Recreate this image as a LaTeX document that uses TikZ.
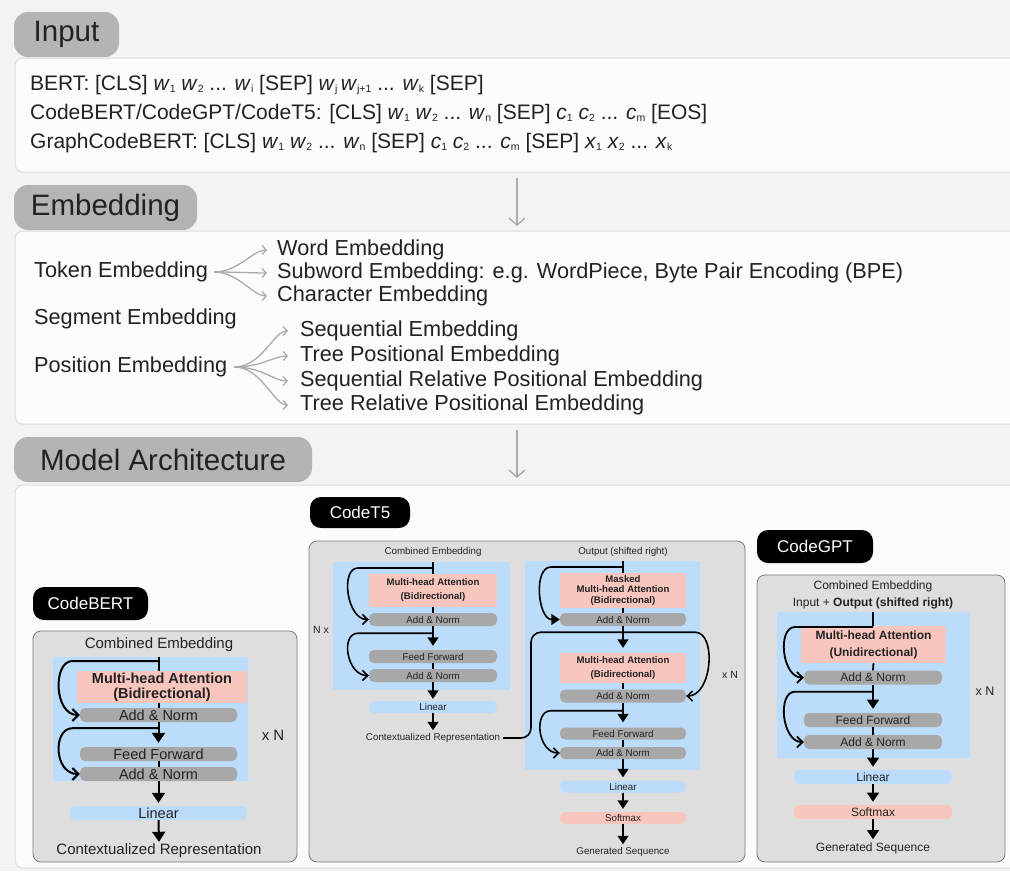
\documentclass[tikz,border=0pt]{standalone}
\usepackage{fontspec}
\setmainfont{Liberation Sans}
\usetikzlibrary{arrows.meta}
\usetikzlibrary{calc}

\definecolor{bgcol}{HTML}{F3F3F3}
\definecolor{panelcol}{HTML}{FCFCFC}
\definecolor{panelline}{HTML}{DCDCDC}
\definecolor{tabcol}{HTML}{B4B4B4}
\definecolor{boxcol}{HTML}{DEDEDE}
\definecolor{boxline}{HTML}{7A7A7A}
\definecolor{layerblue}{HTML}{BBDCFA}
\definecolor{attnpink}{HTML}{F9C6BE}
\definecolor{bargray}{HTML}{A8A8A8}
\definecolor{fangray}{HTML}{ABABAB}
\definecolor{txtcol}{HTML}{222222}

\newcommand{\tk}[2]{\textit{#1}\raisebox{-0.2ex}{\fontsize{10.5}{11}\selectfont #2}}
\newcommand{\fsz}[2]{\fontsize{#1}{#2}\selectfont}

\tikzset{
  tab/.style={fill=tabcol, rounded corners=14pt, inner sep=0pt, text=txtcol, font=\fsz{29.5}{30}},
  panel/.style={fill=panelcol, draw=panelline, line width=1pt, rounded corners=8pt},
  modellabel/.style={fill=black, text=white, rounded corners=11pt, inner sep=0pt, font=\fsz{17}{17}},
  modelbox/.style={fill=boxcol, draw=boxline, line width=0.8pt, rounded corners=8pt, inner sep=0pt},
  layer/.style={fill=layerblue, inner sep=0pt},
  attn/.style={fill=attnpink, inner sep=0pt, align=center, text=txtcol},
  bar/.style={fill=bargray, rounded corners=5pt, inner sep=0pt, text=txtcol},
  lin/.style={fill=layerblue, rounded corners=5pt, inner sep=0pt, text=txtcol},
  soft/.style={fill=attnpink, rounded corners=5pt, inner sep=0pt, text=txtcol},
  plain/.style={inner sep=0pt, text=txtcol},
  fan/.style={draw=fangray, line width=1.3pt, -{Straight Barb[length=4pt,width=9pt]}},
  stage/.style={draw=fangray, line width=1.4pt, -{Straight Barb[length=7pt,width=16pt]}},
  flow/.style={draw=black, line width=#1, -{Triangle[length=2pt 4,width=2pt 5.5]}},
  flow/.default=2pt,
  link/.style={draw=black, line width=#1},
  link/.default=2pt,
  res/.style={draw=black, line width=#1, -{Straight Barb[length=2pt 2,width=2pt 5]}},
  res/.default=2pt,
  resfill/.style={draw=black, line width=#1, -{Triangle[length=2pt 4,width=2pt 5.5]}},
  resfill/.default=2pt,
}

\begin{document}
\begin{tikzpicture}[x=1pt,y=-1pt]
\useasboundingbox (0,0) rectangle (1010,871);
\clip (0,0) rectangle (1010,871);
\fill[bgcol] (0,0) rectangle (1010,871);

% input
\node[tab, minimum width=105pt, minimum height=45pt] (inputtab) at (66.5,34.5) {Input};
\draw[panel] (15,58) rectangle (1030,172);
\node[plain, anchor=west, font=\fsz{21}{24}] (bertline) at (30,85) {BERT: [CLS] \tk{w}{1} \tk{w}{2} ... \tk{w}{i} [SEP] \tk{w}{j}\,\tk{w}{j+1} ... \tk{w}{k} [SEP]};
\node[plain, anchor=west, font=\fsz{21}{24}] (codeline) at (30,114) {CodeBERT/CodeGPT/CodeT5: [CLS] \tk{w}{1} \tk{w}{2} ... \tk{w}{n} [SEP] \tk{c}{1} \tk{c}{2} ... \tk{c}{m} [EOS]};
\node[plain, anchor=west, font=\fsz{21}{24}] (graphline) at (30,143) {GraphCodeBERT: [CLS] \tk{w}{1} \tk{w}{2} ... \tk{w}{n} [SEP] \tk{c}{1} \tk{c}{2} ... \tk{c}{m} [SEP] \tk{x}{1} \tk{x}{2} ... \tk{x}{k}};
\coordinate (inputend) at (517,178);
\coordinate (embedstart) at (517,226);
\draw[stage] (inputend) -- (embedstart);

% embedding
\node[tab, minimum width=183pt, minimum height=45pt] (embedtab) at (105.5,207.5) {Embedding};
\draw[panel] (15,231) rectangle (1030,424);
\node[plain, anchor=west, font=\fsz{21.7}{24}] (token) at (34,272) {Token Embedding};
\node[plain, anchor=west, font=\fsz{21.7}{24}] (segment) at (34,319) {Segment Embedding};
\node[plain, anchor=west, font=\fsz{21.7}{24}] (position) at (34,367) {Position Embedding};
\node[plain, anchor=west, font=\fsz{21.7}{24}] (word) at (277,250) {Word Embedding};
\node[plain, anchor=west, font=\fsz{21.7}{24}] (subword) at (277,273) {Subword Embedding: e.g. WordPiece, Byte Pair Encoding (BPE)};
\node[plain, anchor=west, font=\fsz{21.7}{24}] (character) at (277,296) {Character Embedding};
\node[plain, anchor=west, font=\fsz{21.7}{24}] (seqemb) at (300,331) {Sequential Embedding};
\node[plain, anchor=west, font=\fsz{21.7}{24}] (treeemb) at (300,356) {Tree Positional Embedding};
\node[plain, anchor=west, font=\fsz{21.7}{24}] (seqrel) at (300,381) {Sequential Relative Positional Embedding};
\node[plain, anchor=west, font=\fsz{21.7}{24}] (treerel) at (300,405) {Tree Relative Positional Embedding};
\foreach \target in {word,subword,character}
  \draw[fan, shorten <=6pt, shorten >=10pt] (token.east) .. controls +(30,0) and +(-24,0) .. (\target.west);
\foreach \target in {seqemb,treeemb,seqrel,treerel}
  \draw[fan, shorten <=7pt, shorten >=12pt] (position.east) .. controls +(34,0) and +(-26,0) .. (\target.west);
\coordinate (embedend) at (517,430);
\coordinate (modelstart) at (517,478);
\draw[stage] (embedend) -- (modelstart);

% model architecture
\node[tab, minimum width=298pt, minimum height=45pt] (modeltab) at (163,459.5) {Model Architecture};
\draw[panel] (15,485) rectangle (1030,868);

% CodeBERT
\node[modelbox, minimum width=264pt, minimum height=231pt] (bertbox) at (165,746.5) {};
\node[modellabel, minimum width=115pt, minimum height=33pt] (bertlabel) at (90.5,603.5) {CodeBERT};
\node[plain, font=\fsz{15}{15}] (bertin) at (159,645) {Combined Embedding};
\node[layer, minimum width=195pt, minimum height=124pt] (bertlayer) at (150.5,719) {};
\node[attn, minimum width=170pt, minimum height=32pt, font=\bfseries\fsz{14.5}{15}] (bertmha) at (162,687) {Multi-head Attention\\(Bidirectional)};
\node[bar, minimum width=157pt, minimum height=14pt, font=\fsz{14.5}{15}] (bertan1) at (158.5,715) {Add \& Norm};
\node[bar, minimum width=157pt, minimum height=14pt, font=\fsz{14.5}{15}] (bertff) at (158.5,754) {Feed Forward};
\node[bar, minimum width=157pt, minimum height=14pt, font=\fsz{14.5}{15}] (bertan2) at (158.5,774) {Add \& Norm};
\node[lin, minimum width=177pt, minimum height=14pt, font=\fsz{14.5}{15}] (bertlin) at (158.5,813) {Linear};
\node[plain, font=\fsz{15}{15}] (bertout) at (159,851) {Contextualized Representation};
\node[plain, font=\fsz{15}{15}] (bertrep) at (273,735) {x N};
\coordinate (berttop) at (158.5,657);
\draw[link] (berttop) -- (berttop |- bertmha.north);
\draw[link] (berttop |- bertmha.south) -- (bertan1.north);
\draw[flow] (bertan1.south) -- ([yshift=4pt]bertff.north);
\draw[link] (bertff.south) -- (bertan2.north);
\draw[flow] (bertan2.south) -- ([yshift=3pt]bertlin.north);
\draw[flow] (bertlin.south) -- ([yshift=2pt]bertout.north);
\draw[res] ([yshift=-4pt]berttop) -- ++(-86,0) .. controls +(-20,0) and +(-26,0) .. (bertan1.west);
\draw[res] ([yshift=-6pt]bertan1.south) -- ++(-86,0) .. controls +(-20,0) and +(-26,0) .. (bertan2.west);

% CodeT5
\node[modelbox, minimum width=436pt, minimum height=321pt] (t5box) at (527,701.5) {};
\node[modellabel, minimum width=100pt, minimum height=31pt] (t5label) at (360,512.5) {CodeT5};
\node[plain, font=\fsz{9.8}{10}] (encin) at (433,552) {Combined Embedding};
\node[layer, minimum width=177pt, minimum height=128pt] (enclayer) at (421.5,626) {};
\node[attn, minimum width=128pt, minimum height=33pt, font=\bfseries\fsz{9.6}{14}] (encmha) at (433,590.5) {Multi-head Attention\\(Bidirectional)};
\node[bar, minimum width=128pt, minimum height=13pt, font=\fsz{9.8}{10}] (encan1) at (433,619.5) {Add \& Norm};
\node[bar, minimum width=128pt, minimum height=13pt, font=\fsz{9.8}{10}] (encff) at (433,656.5) {Feed Forward};
\node[bar, minimum width=128pt, minimum height=13pt, font=\fsz{9.8}{10}] (encan2) at (433,675.5) {Add \& Norm};
\node[lin, minimum width=128pt, minimum height=12pt, font=\fsz{9.8}{10}] (enclin) at (433,707) {Linear};
\node[plain, font=\fsz{9.8}{10}] (encout) at (433,738) {Contextualized Representation};
\node[plain, font=\fsz{10.5}{11}] (encrep) at (321,630) {N x};
\coordinate (enctop) at (433,562);
\draw[link=1.6pt] (enctop) -- (enctop |- encmha.north);
\draw[link=1.6pt] (encmha.south) -- (encan1.north);
\draw[flow=1.6pt] (encan1.south) -- ([yshift=4pt]encff.north);
\draw[link=1.6pt] (encff.south) -- (encan2.north);
\draw[flow=1.6pt] (encan2.south) -- ([yshift=2pt]enclin.north);
\draw[flow=1.6pt] (enclin.south) -- ([yshift=3pt]encout.north);
\draw[res=1.6pt] ([yshift=-6pt]enctop) -- ++(-75,0) .. controls +(-18,0) and +(-22,0) .. (encan1.west);
\draw[res=1.6pt] ([yshift=-7pt]encan1.south) -- ++(-75,0) .. controls +(-18,0) and +(-22,0) .. (encan2.west);

\node[plain, font=\fsz{9.8}{10}] (decin) at (623,552) {Output (shifted right)};
\node[layer, minimum width=175pt, minimum height=209pt] (declayer) at (612.5,665.5) {};
\node[attn, minimum width=126pt, minimum height=35pt, font=\bfseries\fsz{9.6}{10.5}] (decmmha) at (623,590.5) {Masked\\Multi-head Attention\\(Bidirectional)};
\node[bar, minimum width=126pt, minimum height=13pt, font=\fsz{9.8}{10}] (decan1) at (623,619.5) {Add \& Norm};
\node[attn, minimum width=126pt, minimum height=30pt, font=\bfseries\fsz{9.6}{14}] (decmha) at (623,668) {Multi-head Attention\\(Bidirectional)};
\node[bar, minimum width=126pt, minimum height=13pt, font=\fsz{9.8}{10}] (decan2) at (623,696) {Add \& Norm};
\node[bar, minimum width=126pt, minimum height=12pt, font=\fsz{9.8}{10}] (decff) at (623,733.5) {Feed Forward};
\node[bar, minimum width=126pt, minimum height=12pt, font=\fsz{9.8}{10}] (decan3) at (623,753) {Add \& Norm};
\node[lin, minimum width=126pt, minimum height=12pt, font=\fsz{9.8}{10}] (declin) at (623,786.5) {Linear};
\node[soft, minimum width=126pt, minimum height=12pt, font=\fsz{9.8}{10}] (decsoft) at (623,818) {Softmax};
\node[plain, font=\fsz{9.8}{10}] (decout) at (623,852) {Generated Sequence};
\node[plain, font=\fsz{10.5}{11}] (decrep) at (730,675) {x N};
\coordinate (dectop) at (623,561);
\draw[link=1.6pt] (dectop) -- (dectop |- decmmha.north);
\draw[link=1.6pt] (decmmha.south) -- (decan1.north);
\draw[flow=1.6pt] (decan1.south) -- ([yshift=5pt]decmha.north);
\draw[link=1.6pt] (decmha.south) -- (decan2.north);
\draw[flow=1.6pt] (decan2.south) -- ([yshift=5pt]decff.north);
\draw[link=1.6pt] (decff.south) -- (decan3.north);
\draw[flow=1.6pt] (decan3.south) -- ([yshift=3pt]declin.north);
\draw[flow=1.6pt] (declin.south) -- ([yshift=3pt]decsoft.north);
\draw[flow=1.6pt] (decsoft.south) -- ([yshift=3pt]decout.north);
\draw[resfill=1.6pt] ([yshift=-6pt]dectop) -- ++(-72,0) .. controls +(-18,0) and +(-22,0) .. (decan1.west);
\draw[res=1.6pt] ([yshift=-6pt]decan1.south) -- ++(72,0) .. controls +(22,0) and +(26,0) .. (decan2.east);
\draw[res=1.6pt] ([yshift=-8pt]decan2.south) -- ++(-72,0) .. controls +(-18,0) and +(-22,0) .. (decan3.west);
\draw[link=1.6pt, rounded corners=10pt, shorten <=3pt] (encout.east) -| ([xshift=-92pt,yshift=-6pt]decan1.south) -- ([yshift=-6pt]decan1.south);

% CodeGPT
\node[modelbox, minimum width=248pt, minimum height=287pt] (gptbox) at (881,718.5) {};
\node[modellabel, minimum width=116pt, minimum height=33pt] (gptlabel) at (815,546.5) {CodeGPT};
\node[plain, font=\fsz{12}{12}] (gptin) at (873,586) {Combined Embedding};
\node[plain, font=\fsz{12}{12}] (gptshift) at (873,603) {Input + \textbf{Output (shifted right)}};
\node[layer, minimum width=193pt, minimum height=146pt] (gptlayer) at (873.5,685) {};
\node[attn, minimum width=145pt, minimum height=37pt, font=\bfseries\fsz{12}{17}] (gptmha) at (873.5,644.5) {Multi-head Attention\\(Unidirectional)};
\node[bar, minimum width=138pt, minimum height=14pt, font=\fsz{12}{12}] (gptan1) at (873,677.5) {Add \& Norm};
\node[bar, minimum width=138pt, minimum height=14pt, font=\fsz{12}{12}] (gptff) at (873,720) {Feed Forward};
\node[bar, minimum width=138pt, minimum height=14pt, font=\fsz{12}{12}] (gptan2) at (873,742) {Add \& Norm};
\node[lin, minimum width=158pt, minimum height=14pt, font=\fsz{12}{12}] (gptlin) at (873,777) {Linear};
\node[soft, minimum width=158pt, minimum height=14pt, font=\fsz{12}{12}] (gptsoft) at (873,812) {Softmax};
\node[plain, font=\fsz{12}{12}] (gptout) at (873,848) {Generated Sequence};
\node[plain, font=\fsz{12.5}{13}] (gptrep) at (985,691) {x N};
\coordinate (gpttop) at (873,612);
\draw[link=1.8pt] (gpttop) -- (gpttop |- gptmha.north);
\draw[link=1.8pt] (gptmha.south) -- (gptan1.north);
\draw[flow=1.8pt] (gptan1.south) -- ([yshift=4pt]gptff.north);
\draw[link=1.8pt] (gptff.south) -- (gptan2.north);
\draw[flow=1.8pt] (gptan2.south) -- ([yshift=3pt]gptlin.north);
\draw[flow=1.8pt] (gptlin.south) -- ([yshift=3pt]gptsoft.north);
\draw[flow=1.8pt] (gptsoft.south) -- ([yshift=3pt]gptout.north);
\draw[res=1.8pt] ([yshift=-15pt]gpttop) -- ++(-78,0) .. controls +(-18,0) and +(-22,0) .. (gptan1.west);
\draw[res=1.8pt] ([yshift=-7pt]gptan1.south) -- ++(-78,0) .. controls +(-18,0) and +(-22,0) .. (gptan2.west);
\end{tikzpicture}
\end{document}
